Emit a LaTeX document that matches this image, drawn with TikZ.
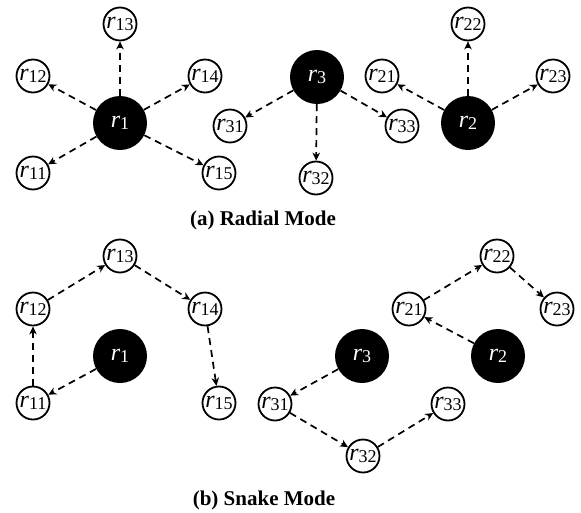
\documentclass[tikz,border=0pt]{standalone}
\usepackage{fontspec}
\setmainfont{Liberation Serif}
\usetikzlibrary{arrows.meta}
\newcommand{\rl}[1]{{\fontsize{24}{24}\selectfont\itshape r\/}\raisebox{-0.2em}{\fontsize{18}{18}\selectfont #1}}
\begin{document}
\begin{tikzpicture}[x=1pt,y=-1pt,
  small/.style={circle,draw=black,line width=1.8pt,fill=white,minimum size=33pt,inner sep=0pt},
  big/.style={circle,fill=black,minimum size=54pt,inner sep=0pt,text=white},
  link/.style={dashed,dash pattern=on 7pt off 5pt,line width=1.7pt,
    -{Stealth[length=8pt,width=7.5pt,inset=2.5pt]}},
  captxt/.style={font=\fontsize{21}{22}\selectfont\bfseries}]
\useasboundingbox (0,0) rectangle (581,512);
% (a) radial
\node[big] (a1) at (120,123) {\rl{1}};
\node[small] (a11) at (33,173) {\rl{11}};
\node[small] (a12) at (33,76) {\rl{12}};
\node[small] (a13) at (120,24) {\rl{13}};
\node[small] (a14) at (205,76) {\rl{14}};
\node[small] (a15) at (219,173) {\rl{15}};
\node[big] (a3) at (317,77) {\rl{3}};
\node[small] (a31) at (230,126) {\rl{31}};
\node[small] (a32) at (316,178) {\rl{32}};
\node[small] (a33) at (402,126) {\rl{33}};
\node[big] (a2) at (468,123) {\rl{2}};
\node[small] (a21) at (382,76) {\rl{21}};
\node[small] (a22) at (468,24) {\rl{22}};
\node[small] (a23) at (553,76) {\rl{23}};
\foreach \t in {a11,a12,a13,a14,a15} \draw[link] (a1) -- (\t);
\foreach \t in {a31,a32,a33} \draw[link] (a3) -- (\t);
\foreach \t in {a21,a22,a23} \draw[link] (a2) -- (\t);
\node[captxt] (capa) at (263,220) {(a) Radial Mode};
% (b) snake
\node[big] (b1) at (120,356) {\rl{1}};
\node[small] (b11) at (33,403) {\rl{11}};
\node[small] (b12) at (33,309) {\rl{12}};
\node[small] (b13) at (120,256) {\rl{13}};
\node[small] (b14) at (205,309) {\rl{14}};
\node[small] (b15) at (219,403) {\rl{15}};
\node[big] (b3) at (362,356) {\rl{3}};
\node[small] (b31) at (275,404) {\rl{31}};
\node[small] (b32) at (363,456) {\rl{32}};
\node[small] (b33) at (448,404) {\rl{33}};
\node[big] (b2) at (498,356) {\rl{2}};
\node[small] (b21) at (409,309) {\rl{21}};
\node[small] (b22) at (497,256) {\rl{22}};
\node[small] (b23) at (557,309) {\rl{23}};
\draw[link] (b1) -- (b11);
\draw[link] (b11) -- (b12);
\draw[link] (b12) -- (b13);
\draw[link] (b13) -- (b14);
\draw[link] (b14) -- (b15);
\draw[link] (b3) -- (b31);
\draw[link] (b31) -- (b32);
\draw[link] (b32) -- (b33);
\draw[link] (b2) -- (b21);
\draw[link] (b21) -- (b22);
\draw[link] (b22) -- (b23);
\node[captxt] (capb) at (264,500) {(b) Snake Mode};
\end{tikzpicture}
\end{document}
